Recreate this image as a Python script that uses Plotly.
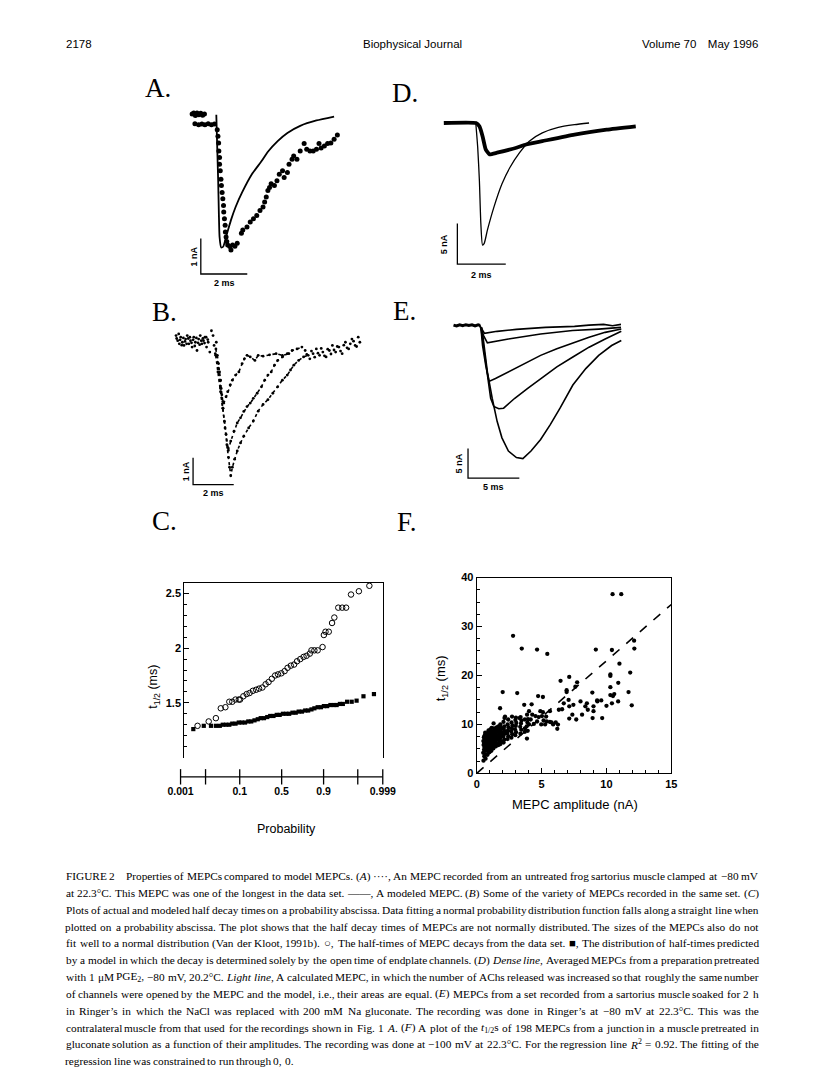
import re
import plotly.graph_objects as go
from statistics import NormalDist

W, H = 816, 1078
nd = NormalDist()

# ======================= DATA =======================
# Panel A: recorded MEPC (dots) and modeled MEPC (line); time in ms, current in nA
a_rec_t = [0.21, 0.28, 0.35, 0.42, 0.50, 0.58, 0.66, 0.74,
           0.33, 0.49, 0.63, 0.76, 0.90, 1.04, 1.17,
           1.29, 1.32, 1.35, 1.36, 1.39, 1.39, 1.42, 1.45, 1.47, 1.50, 1.53, 1.56, 1.57, 1.60, 1.63, 1.64, 1.67, 1.70,
           1.74, 1.83, 1.95, 2.05, 1.88, 2.15,
           2.33, 2.39, 2.57, 2.71, 2.85, 2.99, 3.13, 3.26, 3.33, 3.40, 3.47, 3.54, 3.61, 3.75, 3.86, 3.96, 4.10, 4.17,
           4.31, 4.38, 4.51, 4.58, 4.72, 4.86, 5.03, 5.14, 5.28, 5.42, 5.56, 5.67, 5.76, 5.90, 6.04, 6.18, 6.32, 6.46]
a_rec_i = [0.02, 0.05, -0.02, 0.05, 0.00, 0.04, -0.01, 0.02,
           -0.25, -0.28, -0.26, -0.28, -0.25, -0.28, -0.26,
           -0.42, -0.60, -0.79, -1.02, -1.20, -1.39, -1.57, -1.81, -1.99, -2.18, -2.36, -2.55, -2.73, -2.92, -3.10, -3.29, -3.43, -3.56,
           -3.66, -3.70, -3.66, -3.69, -3.80, -3.61,
           -3.33, -3.24, -3.15, -3.01, -2.92, -2.83, -2.69, -2.59, -2.45, -2.31, -2.13, -2.04, -1.94, -1.99, -1.85, -1.67, -1.57, -1.76,
           -1.62, -1.39, -1.25, -1.16, -1.25, -1.02, -0.81, -0.97, -1.02, -1.02, -0.97, -0.81, -0.93, -0.88, -0.81, -0.79, -0.69, -0.57]
a_model_t = [1.25, 1.29, 1.33, 1.36, 1.39, 1.46, 1.55, 1.67, 1.88, 2.08, 2.36, 2.78, 3.20, 3.47, 3.89, 4.31, 4.86, 5.56, 6.32]
a_model_i = [0.0, -0.93, -1.85, -2.78, -3.43, -3.73, -3.70, -3.43, -2.96, -2.59, -2.18, -1.67, -1.30, -1.04, -0.74, -0.51, -0.31, -0.16, -0.05]

# Panel D: dense line (averaged MEPC) and light line (calculated MEPC)
d_dense_t = [0.0, 1.33, 1.47, 1.60, 1.73, 1.89, 2.20, 3.00, 3.40, 4.07, 5.40, 6.73, 7.93]
d_dense_i = [0.0, 0.0, -0.41, -1.63, -3.26, -3.87, -3.66, -3.05, -2.65, -2.24, -1.43, -0.82, -0.41]
d_light_t = [1.32, 1.40, 1.47, 1.53, 1.60, 1.67, 1.80, 2.07, 2.40, 2.73, 3.13, 3.53, 4.07, 4.73, 5.40, 6.00]
d_light_i = [0.0, -3.01, -7.12, -12.40, -15.05, -14.84, -13.22, -10.37, -7.52, -5.49, -3.66, -2.24, -1.22, -0.54, -0.21, 0.0]

# Panel B: several recorded MEPCs (dots)
b_base_t = [0.02, 0.10, 0.18, 0.25, 0.33, 0.41, 0.49, 0.57, 0.65, 0.73, 0.81, 0.89, 0.97, 1.05, 1.13, 1.21, 1.29, 1.37,
            1.44, 1.52, 1.60, 1.68, 1.76, 1.84, 1.89, 1.95, 2.00,
            0.05, 0.15, 0.22, 0.30, 0.38, 0.46, 0.54, 0.62, 0.70, 0.78, 0.86, 0.94, 1.02, 1.10, 1.18, 1.26, 1.34, 1.42, 1.50, 1.58]
b_base_i = [0.36, 0.17, 0.05, 0.30, 0.11, -0.01, 0.23, 0.36, 0.05, 0.17, -0.07, 0.30, 0.11, -0.20, 0.23, 0.36, 0.05, 0.17,
            0.30, -0.07, 0.11, -0.26, 0.54, 0.36, -0.01, -0.32, 0.11,
            0.25, 0.42, 0.20, 0.00, 0.27, 0.14, 0.05, 0.25, 0.30, 0.09, 0.20, -0.03, 0.27, 0.09, 0.02, 0.17, 0.25, 0.08, 0.30, 0.21]
b_fast_t = [2.05, 2.11, 2.16, 2.21, 2.24, 2.27, 2.32, 2.37, 2.48, 2.56, 2.68, 2.79, 2.95, 3.11, 3.27, 3.38, 3.51, 3.67,
            3.90, 4.06, 4.30, 4.62, 4.94, 5.25, 5.57]
b_fast_i = [-0.38, -0.69, -1.00, -1.31, -1.62, -1.86, -2.11, -2.17, -1.93, -1.74, -1.49, -1.31, -1.12, -1.00, -0.69, -0.51,
            -0.38, -0.44, -0.57, -0.38, -0.41, -0.36, -0.32, -0.38, -0.32]
b_mid_t = [1.97, 2.08, 2.21, 2.32, 2.40, 2.48, 2.56, 2.59, 2.71, 2.87, 3.03, 3.19, 3.35, 3.51, 3.67, 3.82, 4.01, 4.22,
           4.38, 4.54, 4.70, 4.86, 5.02, 5.25, 5.49, 5.73, 5.97, 6.21]
b_mid_i = [-0.38, -1.00, -1.74, -2.36, -2.85, -3.34, -3.84, -3.94, -3.59, -3.22, -2.91, -2.72, -2.48, -2.30, -2.17, -1.99,
           -1.80, -1.56, -1.31, -1.12, -1.00, -0.75, -0.57, -0.44, -0.32, -0.20, -0.14, -0.07]
b_slow_t = [1.98, 2.10, 2.21, 2.33, 2.43, 2.52, 2.60, 2.65, 2.71, 2.79, 2.90, 3.03, 3.19, 3.35, 3.59, 3.82, 4.06, 4.30,
            4.54, 4.78, 5.02, 5.25, 5.49, 5.65, 5.81, 6.05, 6.29, 6.52]
b_slow_i = [-0.14, -0.88, -1.62, -2.36, -3.10, -3.73, -4.20, -4.57, -4.89, -4.57, -4.27, -3.96, -3.66, -3.41, -3.10, -2.84,
            -2.47, -2.22, -2.04, -1.80, -1.56, -1.31, -1.12, -0.93, -0.75, -0.57, -0.44, -0.38]
b_tail_t = [6.37, 6.60, 6.76, 6.92, 7.08, 7.24, 7.40, 7.56, 7.71, 7.87, 8.03, 8.19, 8.35, 8.51, 8.67, 8.83, 8.98, 9.06,
            6.45, 6.68, 6.84, 7.00, 7.16, 7.32, 7.48, 7.64, 7.79, 7.95, 8.11, 8.27, 8.43, 8.59, 8.75, 8.90]
b_tail_i = [-0.20, -0.51, -0.32, -0.14, -0.38, -0.26, -0.44, -0.20, -0.01, -0.26, -0.07, -0.32, 0.11, -0.14, 0.23, -0.01, 0.30, 0.11,
            -0.35, -0.22, -0.45, -0.30, -0.12, -0.40, -0.15, -0.33, -0.18, -0.05, -0.22, 0.00, -0.10, 0.05, 0.15, -0.05]

# Panel E: MEPCs after gluconate soak
e_base_t = [0.0, 0.3, 0.6, 0.9, 1.2, 1.5, 1.8, 2.1, 2.4, 2.6]
e_base_i = [0.05, -0.10, 0.10, -0.05, 0.12, 0.0, 0.10, -0.08, 0.10, 0.0]
e1_t = [2.55, 2.83, 3.02, 4.25, 6.13, 8.96, 11.79, 13.20, 14.62, 15.50, 16.32]
e1_i = [0.0, -0.83, -1.33, -1.00, -0.67, -0.33, -0.17, 0.05, 0.17, -0.05, 0.17]
e2_t = [2.55, 2.92, 3.30, 5.35, 8.49, 11.60, 14.15, 16.32]
e2_i = [0.0, -1.67, -2.95, -2.28, -1.45, -0.87, -0.62, -0.33]
e3_t = [2.67, 2.83, 3.14, 3.46, 4.09, 5.35, 6.92, 8.49, 10.07, 11.63, 13.21, 14.78, 16.35]
e3_i = [-0.33, -3.39, -6.72, -9.45, -8.95, -7.83, -6.45, -5.05, -3.95, -2.95, -2.00, -1.17, -0.62]
e4_t = [2.67, 2.99, 3.30, 3.62, 3.93, 4.41, 4.88, 5.97, 7.23, 8.49, 10.07, 11.63, 13.21, 14.78, 16.35]
e4_i = [-0.33, -4.50, -8.95, -12.28, -13.67, -14.05, -13.95, -12.28, -10.62, -8.95, -7.00, -5.33, -3.67, -2.28, -1.00]
e5_t = [2.76, 2.99, 3.30, 3.77, 4.25, 4.72, 5.35, 6.13, 6.76, 7.55, 8.49, 9.43, 10.38, 11.63, 12.89, 14.15, 15.41, 16.35]
e5_i = [-0.33, -3.39, -7.83, -12.28, -16.17, -18.95, -21.17, -22.28, -22.45, -21.17, -19.22, -16.72, -13.95, -10.05,
        -7.28, -5.05, -3.39, -2.55]

# Panel C: half decay times (ms) vs normal score of plotting position
c_obs_z = [-2.57, -2.23, -2.01, -1.86, -1.72, -1.60, -1.51, -1.41, -1.31, -1.27, -1.17, -1.07, -0.98, -0.88, -0.78, -0.69,
           -0.59, -0.49, -0.40, -0.30, -0.20, -0.11, -0.01, 0.09, 0.18, 0.28, 0.38, 0.47, 0.57, 0.67, 0.76, 0.86, 0.91,
           1.00, 1.10, 1.25, 1.29, 1.34, 1.44, 1.54, 1.61, 1.73, 1.85, 1.97, 2.12, 2.36, 2.68]
c_obs_t = [1.29, 1.33, 1.36, 1.45, 1.46, 1.51, 1.51, 1.53, 1.53, 1.53, 1.56, 1.58, 1.59, 1.61, 1.62, 1.63, 1.64, 1.67,
           1.69, 1.72, 1.75, 1.76, 1.77, 1.79, 1.82, 1.84, 1.85, 1.88, 1.90, 1.92, 1.93, 1.95, 1.98, 1.98, 1.98, 2.01,
           2.12, 2.15, 2.15, 2.23, 2.28, 2.37, 2.37, 2.37, 2.49, 2.52, 2.57]
c_mod_z = [-2.70, -2.38, -2.16, -2.01, -1.89, -1.80, -1.70, -1.60, -1.51, -1.41, -1.31, -1.22, -1.12, -1.02, -0.93,
           -0.83, -0.73, -0.64, -0.54, -0.44, -0.35, -0.25, -0.15, -0.06, 0.04, 0.14, 0.23, 0.33, 0.43, 0.52, 0.62,
           0.72, 0.81, 0.91, 1.00, 1.10, 1.20, 1.29, 1.39, 1.49, 1.59, 1.68, 1.78, 1.87, 2.00, 2.14, 2.29, 2.50, 2.82]
c_mod_t = [1.26, 1.29, 1.29, 1.29, 1.29, 1.30, 1.30, 1.30, 1.31, 1.31, 1.32, 1.32, 1.32, 1.33, 1.33, 1.34, 1.35, 1.36,
           1.36, 1.37, 1.38, 1.38, 1.39, 1.39, 1.40, 1.40, 1.40, 1.41, 1.41, 1.42, 1.42, 1.43, 1.43, 1.44, 1.45, 1.46,
           1.46, 1.47, 1.47, 1.48, 1.48, 1.48, 1.49, 1.49, 1.51, 1.51, 1.52, 1.56, 1.58]
c_yticks = [1.5, 2.0, 2.5]
c_yticktext = ['1.5', '2', '2.5']
prob_ticks = [0.001, 0.01, 0.1, 0.5, 0.9, 0.99, 0.999]
prob_labeled = [0.001, 0.1, 0.5, 0.9, 0.999]
prob_labels = ['0.001', '0.1', '0.5', '0.9', '0.999']

# Panel F: t1/2 (ms) vs MEPC amplitude (nA)
f_amp_sparse = [10.47, 11.14, 2.80, 3.47, 4.65, 5.44, 9.18, 10.42, 12.13, 12.15, 11.00, 10.30, 10.30, 7.13, 6.46, 7.74,
                11.83, 10.30, 10.91, 7.60, 6.93, 6.93, 2.00, 3.12, 4.73, 5.10, 8.91, 11.70, 10.30, 10.60, 10.90, 10.42,
                10.00, 9.60, 9.28, 9.67, 8.93, 8.56, 8.37, 8.00, 8.12, 8.49, 7.67, 7.37, 7.13, 6.71, 7.08, 7.45, 6.33,
                6.58, 7.13, 6.09, 6.26, 6.21, 5.64, 5.35, 5.15, 5.10, 4.90, 4.23, 3.66, 5.64, 3.71, 3.71, 4.03, 3.29,
                2.18, 1.80, 3.71, 9.00, 9.00, 9.30, 10.50, 11.95]
f_t12_sparse = [36.6, 36.6, 28.1, 25.5, 25.3, 24.4, 25.3, 25.2, 27.1, 25.5, 22.4, 20.2, 19.9, 19.7, 18.9, 18.6, 20.6,
                17.6, 18.5, 17.7, 17.0, 16.6, 16.6, 16.4, 15.8, 15.6, 16.5, 16.6, 16.0, 16.2, 14.7, 14.3, 13.8, 14.9,
                14.9, 11.3, 11.3, 13.0, 13.7, 14.7, 12.0, 14.3, 11.0, 12.0, 13.7, 14.3, 15.0, 14.0, 13.0, 13.1, 11.2,
                10.4, 9.96, 9.1, 10.5, 11.6, 10.8, 12.5, 12.7, 14.1, 14.0, 12.7, 11.0, 9.2, 10.0, 11.3, 11.6, 13.3, 8.5,
                13.7, 12.7, 14.7, 15.8, 13.9]
f_amp_mid = [4.03, 4.28, 4.53, 4.78, 5.03, 4.65, 4.40, 5.40, 5.27, 4.97, 4.16, 5.77, 5.89]
f_t12_mid = [12.7, 12.0, 11.7, 11.5, 11.7, 10.6, 10.1, 10.6, 10.0, 10.0, 11.0, 10.4, 10.0]
f_amp_dense = [0.52, 0.58, 0.50, 0.56, 0.60, 0.53, 0.57, 0.51, 0.59, 0.55, 0.62,
               0.68, 0.72, 0.66, 0.74, 0.70, 0.67, 0.73, 0.69, 0.75, 0.71, 0.65,
               0.83, 0.88, 0.81, 0.86, 0.90, 0.84, 0.87, 0.82, 0.89, 0.85, 0.91,
               0.98, 1.03, 0.96, 1.01, 1.05, 0.99, 1.02, 0.97, 1.04, 1.00, 1.06,
               1.13, 1.18, 1.11, 1.16, 1.20, 1.14, 1.17, 1.12, 1.19, 1.15,
               1.28, 1.33, 1.26, 1.31, 1.35, 1.29, 1.32, 1.27, 1.34, 1.30,
               1.47, 1.53, 1.45, 1.51, 1.55, 1.48, 1.52, 1.46, 1.54,
               1.68, 1.73, 1.66, 1.71, 1.75, 1.69, 1.72, 1.67,
               1.83, 1.88, 1.81, 1.86, 1.90, 1.84, 1.87, 1.82,
               2.07, 2.13, 2.05, 2.11, 2.15, 2.08, 2.12, 2.06, 2.14,
               2.37, 2.43, 2.35, 2.41, 2.45, 2.38, 2.42,
               2.67, 2.73, 2.65, 2.71, 2.75, 2.68, 2.72,
               2.97, 3.03, 2.95, 3.01, 3.05, 2.98, 3.02,
               3.37, 3.43, 3.35, 3.41, 3.45, 3.38,
               3.87, 3.93, 3.85, 3.91, 3.95, 3.88]
f_t12_dense = [2.6, 3.5, 4.2, 4.8, 5.3, 5.8, 6.2, 6.6, 7.0, 7.4, 7.8,
               3.0, 3.9, 4.6, 5.1, 5.6, 6.1, 6.5, 6.9, 7.3, 7.9, 8.3,
               3.8, 4.5, 5.0, 5.5, 6.0, 6.4, 6.9, 7.3, 7.7, 8.2, 8.8,
               4.3, 4.9, 5.4, 5.9, 6.3, 6.8, 7.2, 7.6, 8.1, 8.6, 9.0,
               4.6, 5.2, 5.8, 6.3, 6.7, 7.1, 7.6, 8.0, 8.5, 9.3,
               5.1, 5.7, 6.2, 6.7, 7.1, 7.6, 8.0, 8.5, 9.2, 10.2,
               5.5, 6.0, 6.5, 7.0, 7.5, 7.9, 8.4, 8.9, 9.4,
               5.8, 6.4, 6.9, 7.4, 8.0, 8.5, 9.0, 9.6,
               6.0, 6.6, 7.2, 7.7, 8.3, 8.8, 9.3, 10.0,
               6.3, 6.9, 7.5, 8.0, 8.6, 9.1, 9.6, 10.5, 11.3,
               7.0, 7.6, 8.2, 8.8, 9.4, 10.0, 11.0,
               7.3, 8.0, 8.6, 9.2, 9.8, 10.4, 11.6,
               7.8, 8.4, 9.0, 9.7, 10.3, 10.9, 11.4,
               8.1, 8.9, 9.5, 10.2, 10.8, 11.5,
               7.1, 8.7, 9.6, 10.4, 11.1, 12.0]
f_reg_slope = 2.3  # regression through origin (ms per nA)
f_xrange = [0, 15]

caption = [
    'FIGURE 2\u2003Properties of MEPCs compared to model MEPCs. (<i>A</i>) \u00b7\u00b7\u00b7\u00b7, An MEPC recorded from an untreated frog sartorius muscle clamped at \u221280 mV',
    'at 22.3\u00b0C. This MEPC was one of the longest in the data set. \u2014\u2014, A modeled MEPC. (<i>B</i>) Some of the variety of MEPCs recorded in the same set. (<i>C</i>)',
    'Plots of actual and modeled half decay times on a probability abscissa. Data fitting a normal probability distribution function falls along a straight line when',
    'plotted on a probability abscissa. The plot shows that the half decay times of MEPCs are not normally distributed. The sizes of the MEPCs also do not',
    'fit well to a normal distribution (Van der Kloot, 1991b). \u25cb, The half-times of MEPC decays from the data set. \u25a0, The distribution of half-times predicted',
    'by a model in which the decay is determined solely by the open time of endplate channels. (<i>D</i>) <i>Dense</i> <i>line</i>, Averaged MEPCs from a preparation pretreated',
    'with 1 \u03bcM PGE<sub>2</sub>, \u221280 mV, 20.2\u00b0C. <i>Light</i> <i>line</i>, A calculated MEPC, in which the number of AChs released was increased so that roughly the same number',
    'of channels were opened by the MEPC and the model, i.e., their areas are equal. (<i>E</i>) MEPCs from a set recorded from a sartorius muscle soaked for 2 h',
    'in Ringer\u2019s in which the NaCl was replaced with 200 mM Na gluconate. The recording was done in Ringer\u2019s at \u221280 mV at 22.3\u00b0C. This was the',
    'contralateral muscle from that used for the recordings shown in Fig. 1 <i>A</i>. (<i>F</i>) A plot of the <i>t</i><sub>1/2</sub>s of 198 MEPCs from a junction in a muscle pretreated in',
    'gluconate solution as a function of their amplitudes. The recording was done at \u2212100 mV at 22.3\u00b0C. For the regression line <i>R</i><sup>2</sup> = 0.92. The fitting of the',
    'regression line was constrained to run through 0, 0.',
]

# ======================= LAYOUT HELPERS =======================
def dom_x(p0, p1):
    return [p0 / W, p1 / W]


def dom_y(top, bot):
    return [1 - bot / H, 1 - top / H]


def axkey(i, letter):
    return f'{letter}axis' if i == 1 else f'{letter}axis{i}'


def ref(i, letter):
    return letter if i == 1 else f'{letter}{i}'


traces = []
layout = dict(width=W, height=H, margin=dict(l=0, r=0, t=0, b=0),
              paper_bgcolor='white', plot_bgcolor='rgba(0,0,0,0)',
              showlegend=False, annotations=[])

SANS = 'Liberation Sans'
SERIF = 'Liberation Serif'


def trace_panel(i, box, origin, scale):
    x0, x1, top, bot = box
    ox, oy = origin
    sx, sy = scale
    layout[axkey(i, 'x')] = dict(domain=dom_x(x0, x1), range=[(x0 - ox) / sx, (x1 - ox) / sx],
                                 visible=False, anchor=ref(i, 'y'))
    layout[axkey(i, 'y')] = dict(domain=dom_y(top, bot), range=[-(bot - oy) / sy, -(top - oy) / sy],
                                 visible=False, anchor=ref(i, 'x'))


def add(i, **kw):
    traces.append(go.Scatter(xaxis=ref(i, 'x'), yaxis=ref(i, 'y'), hoverinfo='skip', cliponaxis=False, **kw))


def scale_bar(i, corner, w, h, vlab, hlab, vshift, hshift):
    cx, cy = corner
    add(i, x=[cx, cx, cx + w], y=[cy + h, cy, cy], mode='lines', line=dict(color='black', width=1.3))
    f = dict(family=SANS, size=9, color='black')
    layout['annotations'].append(dict(x=cx, y=cy + h / 2, xref=ref(i, 'x'), yref=ref(i, 'y'), text=f'<b>{vlab}</b>',
                                      textangle=-90, showarrow=False, xshift=vshift, font=f))
    layout['annotations'].append(dict(x=cx + w / 2, y=cy, xref=ref(i, 'x'), yref=ref(i, 'y'), text=f'<b>{hlab}</b>',
                                      showarrow=False, yshift=hshift, font=f))


def ann(text, px, py, size, family, angle=0, color='black'):
    # centre-anchored so the placement does not depend on the measured box width
    layout['annotations'].append(dict(x=px / W, y=1 - py / H, xref='paper', yref='paper', text=text,
                                      showarrow=False, xanchor='center', yanchor='middle', textangle=angle,
                                      borderpad=0, font=dict(family=family, size=size, color=color)))


# ---------- Panel A ----------
trace_panel(1, (178, 345, 100, 282), (180, 110), (24, 36))
add(1, x=a_model_t, y=a_model_i, mode='lines', line=dict(color='black', width=1.8, shape='spline', smoothing=0.5))
add(1, x=a_rec_t, y=a_rec_i, mode='markers', marker=dict(color='black', size=5))
scale_bar(1, (0.583, -4.472), 2, 1, '1 nA', '2 ms', -6.5, -9)

# ---------- Panel D ----------
trace_panel(2, (440, 650, 110, 275), (445, 118.3), (25, 8.2))
add(2, x=d_light_t, y=d_light_i, mode='lines', line=dict(color='black', width=1.3, shape='spline', smoothing=0.6))
add(2, x=d_dense_t, y=d_dense_i, mode='lines', line=dict(color='black', width=3.8, shape='spline', smoothing=0.4))
scale_bar(2, (0.56, -17.4), 2, 5, '5 nA', '2 ms', -14, -11)

# ---------- Panel B ----------
trace_panel(3, (163, 365, 325, 492), (168, 343), (21, 27))
add(3, x=b_base_t, y=b_base_i, mode='markers', marker=dict(color='black', size=2.8))
for tt, ii in ((b_fast_t, b_fast_i), (b_mid_t, b_mid_i), (b_slow_t, b_slow_i)):
    add(3, x=tt, y=ii, mode='lines+markers', line=dict(color='black', width=1.6, dash='dot'),
        marker=dict(color='black', size=2.8))
add(3, x=b_tail_t, y=b_tail_i, mode='markers', marker=dict(color='black', size=2.8))
scale_bar(3, (0.857, -5.22), 2, 1, '1 nA', '2 ms', -7, -8)

# ---------- Panel E ----------
trace_panel(4, (450, 636, 315, 492), (455, 323), (10.6, 6.0))
add(4, x=e_base_t, y=e_base_i, mode='lines', line=dict(color='black', width=3))
for tt, ii in ((e1_t, e1_i), (e2_t, e2_i), (e3_t, e3_i), (e4_t, e4_i), (e5_t, e5_i)):
    add(4, x=tt, y=ii, mode='lines', line=dict(color='black', width=1.6))
scale_bar(4, (1.415, -25.75), 5, 5, '5 nA', '5 ms', -9, -9)

# ---------- Panel C ----------
z0_px, z_px = 277.5, 33.8
layout['xaxis5'] = dict(domain=dom_x(177, 382), range=[(177 - z0_px) / z_px, (382 - z0_px) / z_px], side='top',
                        showline=True, linecolor='black', linewidth=1.2, ticks='', showticklabels=False,
                        showgrid=False, zeroline=False, anchor='y5')
layout['yaxis5'] = dict(domain=dom_y(583, 760), range=[1.0, 2.6], showline=True, mirror=True, linecolor='black',
                        linewidth=1.2, ticks='inside', ticklen=5, tickcolor='black', tickvals=c_yticks,
                        ticktext=[f'<b>{t}</b>' for t in c_yticktext],
                        tickfont=dict(family=SANS, size=11, color='black'),
                        minor=dict(tickmode='array', tickvals=[round(1.0 + 0.1 * k, 2) for k in range(1, 16)],
                                   ticks='inside', ticklen=3, tickcolor='black'),
                        showgrid=False, zeroline=False, anchor='x5')
add(5, x=c_obs_z, y=c_obs_t, mode='markers',
    marker=dict(symbol='circle-open', size=5.5, color='black', line=dict(width=1, color='black')))
add(5, x=c_mod_z, y=c_mod_t, mode='markers', marker=dict(symbol='square', size=4.2, color='black'))

# probability axis under panel C
p_z = [nd.inv_cdf(p) for p in prob_ticks]
layout['xaxis6'] = dict(domain=dom_x(173, 382), range=[p_z[0] - 0.002, p_z[-1] + 0.002], showline=False, ticks='',
                        tickvals=[nd.inv_cdf(p) for p in prob_labeled],
                        ticktext=[f'<b>{t}</b>' for t in prob_labels],
                        tickfont=dict(family=SANS, size=10.5, color='black'),
                        showgrid=False, zeroline=False, anchor='y6')
layout['yaxis6'] = dict(domain=dom_y(773, 786), range=[-1, 1], visible=False, anchor='x6')
add(6, x=[p_z[0], p_z[-1]], y=[0, 0], mode='lines', line=dict(color='black', width=1.2))
add(6, x=p_z, y=[0] * len(p_z), mode='markers',
    marker=dict(symbol='line-ns', size=11, color='black', line=dict(width=1.3, color='black')))

# ---------- Panel F ----------
layout['xaxis7'] = dict(domain=dom_x(479, 680), range=f_xrange, showline=True, mirror=True, linecolor='black',
                        linewidth=1.2, ticks='inside', ticklen=5, tickcolor='black',
                        tickvals=[0, 5, 10, 15], ticktext=['<b>0</b>', '<b>5</b>', '<b>10</b>', '<b>15</b>'],
                        tickfont=dict(family=SANS, size=11, color='black'),
                        minor=dict(dtick=1, tick0=0, ticks='inside', ticklen=3, tickcolor='black'),
                        showgrid=False, zeroline=False, anchor='y7')
layout['yaxis7'] = dict(domain=dom_y(578, 776), range=[0, 40], showline=True, mirror=True, linecolor='black',
                        linewidth=1.2, ticks='inside', ticklen=5, tickcolor='black',
                        tickvals=[0, 10, 20, 30, 40], ticktext=['<b>0</b>', '<b>10</b>', '<b>20</b>', '<b>30</b>', '<b>40</b>'],
                        tickfont=dict(family=SANS, size=11, color='black'),
                        minor=dict(dtick=2.5, tick0=0, ticks='inside', ticklen=3, tickcolor='black'),
                        showgrid=False, zeroline=False, anchor='x7')
add(7, x=f_amp_sparse + f_amp_mid + f_amp_dense, y=f_t12_sparse + f_t12_mid + f_t12_dense, mode='markers',
    marker=dict(color='black', size=4.3))
add(7, x=f_xrange, y=[f_reg_slope * v for v in f_xrange], mode='lines',
    line=dict(color='black', width=1.6, dash='dash'))

# ---------- Text ----------
ann('2178', 68, 38, 11.5, SANS)
ann('Biophysical Journal', 413, 38, 11.5, SANS)
ann('Volume 70\u2003May 1996', 710, 38, 11.5, SANS)

for lab, px, py in (('A.', 150, 83), ('D.', 405, 88), ('B.', 156, 309), ('E.', 404, 308),
                    ('C.', 156, 521), ('F.', 407, 522)):
    ann(lab, px, py, 27, SERIF)

ann('t<sub>1/2</sub> (ms)', 146, 688, 12.5, SANS, angle=-90)
ann('Probability', 283, 832, 12.5, SANS)
ann('t<sub>1/2</sub> (ms)', 443, 680, 13, SANS, angle=-90)
ann('MEPC amplitude (nA)', 580, 807, 13, SANS)

# ---- justified caption (word placement from Times metrics) ----
TIMES = {' ': 250, '!': 333, '(': 333, ')': 333, ',': 250, '-': 333, '.': 250, '/': 278, ':': 278, ';': 278,
         '=': 564, '0': 500, '1': 500, '2': 500, '3': 500, '4': 500, '5': 500, '6': 500, '7': 500, '8': 500, '9': 500,
         'A': 722, 'B': 667, 'C': 667, 'D': 722, 'E': 611, 'F': 556, 'G': 722, 'H': 722, 'I': 333, 'J': 389,
         'K': 722, 'L': 611, 'M': 889, 'N': 722, 'O': 722, 'P': 556, 'Q': 722, 'R': 667, 'S': 556, 'T': 611,
         'U': 722, 'V': 722, 'W': 944, 'X': 722, 'Y': 722, 'Z': 611,
         'a': 444, 'b': 500, 'c': 444, 'd': 500, 'e': 444, 'f': 333, 'g': 500, 'h': 500, 'i': 278, 'j': 278,
         'k': 500, 'l': 278, 'm': 778, 'n': 500, 'o': 500, 'p': 500, 'q': 500, 'r': 333, 's': 389, 't': 278,
         'u': 500, 'v': 500, 'w': 722, 'x': 500, 'y': 500, 'z': 444,
         '\u2003': 1000, '\u00b7': 250, '\u2212': 564, '\u2014': 1000, '\u00b0': 400, '\u03bc': 500,
         '\u2019': 333, '\u25cb': 790, '\u25a0': 600}


def text_w(html, size):
    w = 0.0
    small = False
    for tok in re.split(r'(<[^>]+>)', html):
        if tok.startswith('<'):
            if tok in ('<sub>', '<sup>'):
                small = True
            elif tok in ('</sub>', '</sup>'):
                small = False
            continue
        for ch in tok:
            w += TIMES.get(ch, 500) / 1000 * size * (0.7 if small else 1.0)
    return w


CAP_L, CAP_R, CAP_Y0, CAP_DY = 55, 770, 880, 17.0
MIN_GAP_EM = 0.28
need = []
for line in caption[:-1]:
    wds = line.split(' ')
    need.append(sum(text_w(wd, 1.0) for wd in wds) + MIN_GAP_EM * (len(wds) - 1))
CAP_SIZE = min(11.5, (CAP_R - CAP_L) / max(need))

for k, line in enumerate(caption):
    words = line.split(' ')
    widths = [text_w(wd, CAP_SIZE) for wd in words]
    if k < len(caption) - 1 and len(words) > 1:
        gap = (CAP_R - CAP_L - sum(widths)) / (len(words) - 1)
    else:
        gap = MIN_GAP_EM * CAP_SIZE
    x = CAP_L
    for wd, ww in zip(words, widths):
        ann(wd, x + ww / 2, CAP_Y0 + CAP_DY * k, CAP_SIZE, SERIF)
        x += ww + gap

fig = go.Figure(data=traces, layout=layout)
fig.write_html('out.html', config={'displayModeBar': False},
               post_script="document.body.style.margin='0px';document.body.style.overflow='hidden';")
